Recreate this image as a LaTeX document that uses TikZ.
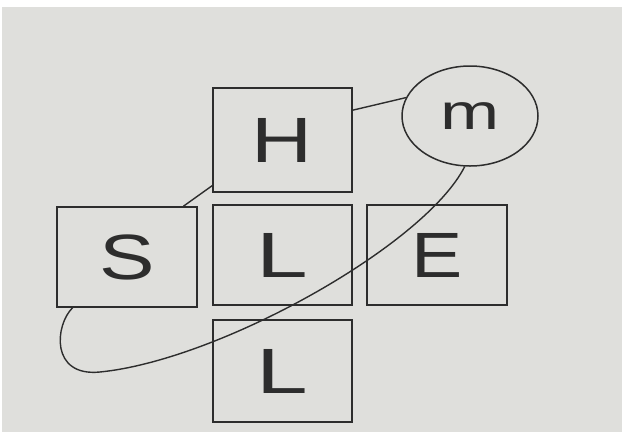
\documentclass[tikz,border=0pt]{standalone}
\usepackage{fontspec}
\setmainfont{Liberation Sans}
\usetikzlibrary{shapes.geometric}
\definecolor{paper}{RGB}{223,223,220}
\definecolor{ink}{RGB}{45,45,45}
\tikzset{
  box/.style={draw=ink, line width=1.6pt, rectangle, inner sep=0pt,
    minimum width=139pt, minimum height=101pt, text=ink,
    font=\fontsize{64}{64}\selectfont},
  oval/.style={draw=ink, line width=1.5pt, ellipse, inner sep=0pt,
    minimum width=136pt, minimum height=100pt, text=ink,
    font=\fontsize{50}{50}\selectfont},
  link/.style={draw=ink, line width=1.4pt}
}
\newcommand{\wide}[2]{\scalebox{#1}[1]{#2}}
\begin{document}
\begin{tikzpicture}[x=1pt,y=-1pt]
\useasboundingbox (0,0) rectangle (622,432);
\fill[white] (0,0) rectangle (622,432);
\fill[paper] (2,7) rectangle (622,432);
\node[box, minimum height=104pt] (H) at (282.5,140) {\wide{1.32}{H}};
\node[box, minimum width=140pt, minimum height=100pt] (S) at (127,257) {\wide{1.3}{S}};
\node[box, minimum height=100pt] (L1) at (282.5,255) {\wide{1.45}{L}};
\node[box, minimum width=140pt, minimum height=100pt] (E) at (437,255) {\wide{1.2}{E}};
\node[box, minimum height=102pt] (L2) at (282.5,371) {\wide{1.45}{L}};
\node[oval] (m) at (470,116) {\wide{1.42}{m}};
\draw[link] (H.23) -- (m.164);
\draw[link] (H.213) -- (S.42);
\draw[link] (m.-96) .. controls (425,245) and (220,360) .. (100,372)
  .. controls (50,377) and (55,325) .. (S.-137);
\end{tikzpicture}
\end{document}
